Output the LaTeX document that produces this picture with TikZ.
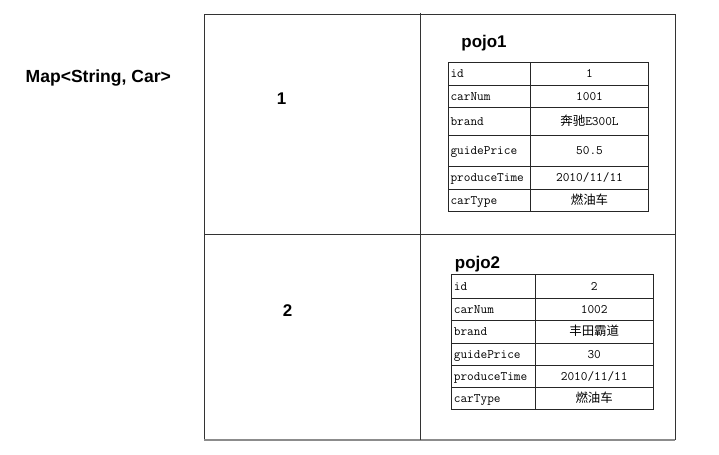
\documentclass[tikz,border=0pt]{standalone}
\usepackage{fontspec}
\setmainfont{Liberation Sans}
\newfontfamily\cjk{Noto Sans CJK SC}
\newfontfamily\monof{Latin Modern Mono}
\begin{document}
\begin{tikzpicture}[x=1bp,y=-1bp,
  frame/.style={draw=black!80,line width=0.9bp},
  grid/.style={draw=black!85,line width=0.8bp},
  big/.style={font=\fontsize{17}{20}\selectfont\bfseries,inner sep=0},
  key/.style={font=\monof\fontsize{13}{15}\selectfont,anchor=west,inner sep=0,text height=10bp,text depth=2bp},
  val/.style={font=\monof\fontsize{13}{15}\selectfont,inner sep=0,text height=10bp,text depth=2bp}]
\newcommand\zh[1]{{\cjk\fontsize{12.5}{15}\selectfont #1}}
\useasboundingbox[fill=white] (0,0) rectangle (719,455);
% frame
\coordinate (tl) at (204,14);
\coordinate (tr) at (675,14);
\coordinate (bl) at (204,440);
\coordinate (br) at (675,440);
\coordinate (mt) at (420,13);
\coordinate (mb) at (420,440);
\coordinate (hl) at (204,234);
\coordinate (hr) at (675,234);
\draw[frame] (bl) -- (tl) -- (tr) -- (br);
\draw[draw=black!45,line width=1.6bp] (bl) -- (br);
\draw[frame] (mt) -- (mb);
\draw[frame] (hl) -- (hr);
% labels
\node[font=\fontsize{17.6}{20}\selectfont\bfseries,inner sep=0] (map) at (98.3,78.5) {Map<String, Car>};
\node[big] (k1) at (281.5,98.5) {1};
\node[big] (k2) at (287.5,311) {2};
\node[big] (p1) at (484,43) {pojo1};
\node[big] (p2) at (477.5,264.5) {pojo2};
% table 1
\def\ta{448.3}\def\tb{530.7}\def\tc{648.3}
\draw[grid] (\ta,62.3) rectangle (\tc,211.7);
\draw[grid] (\tb,62.3) -- (\tb,211.7);
\foreach \yy in {85.7,107.3,135,166.7,189.3}{\draw[grid] (\ta,\yy) -- (\tc,\yy);}
\node[key] (a1) at (\ta+2,74) {id};
\node[val] (b1) at (589.5,74) {1};
\node[key] (a2) at (\ta+2,96.5) {carNum};
\node[val] (b2) at (589.5,96.5) {1001};
\node[key] (a3) at (\ta+2,121.2) {brand};
\node[val] (b3) at (589.5,121.2) {\zh{奔驰}E300L};
\node[key] (a4) at (\ta+2,150.9) {guidePrice};
\node[val] (b4) at (589.5,150.9) {50.5};
\node[key] (a5) at (\ta+2,178) {produceTime};
\node[val] (b5) at (589.5,178) {2010/11/11};
\node[key] (a6) at (\ta+2,200.5) {carType};
\node[val] (b6) at (589.5,200.5) {\zh{燃油车}};
% table 2
\def\sa{451.7}\def\sb{535}\def\sc{653.3}
\draw[grid] (\sa,274.3) rectangle (\sc,409.3);
\draw[grid] (\sb,274.3) -- (\sb,409.3);
\foreach \yy in {298.3,320.7,343.3,365,387.3}{\draw[grid] (\sa,\yy) -- (\sc,\yy);}
\node[key] (c1) at (\sa+2,286.3) {id};
\node[val] (d1) at (594.2,286.3) {2};
\node[key] (c2) at (\sa+2,309.5) {carNum};
\node[val] (d2) at (594.2,309.5) {1002};
\node[key] (c3) at (\sa+2,332) {brand};
\node[val] (d3) at (594.2,332) {\zh{丰田霸道}};
\node[key] (c4) at (\sa+2,354.2) {guidePrice};
\node[val] (d4) at (594.2,354.2) {30};
\node[key] (c5) at (\sa+2,376.2) {produceTime};
\node[val] (d5) at (594.2,376.2) {2010/11/11};
\node[key] (c6) at (\sa+2,398.3) {carType};
\node[val] (d6) at (594.2,398.3) {\zh{燃油车}};
\end{tikzpicture}
\end{document}
